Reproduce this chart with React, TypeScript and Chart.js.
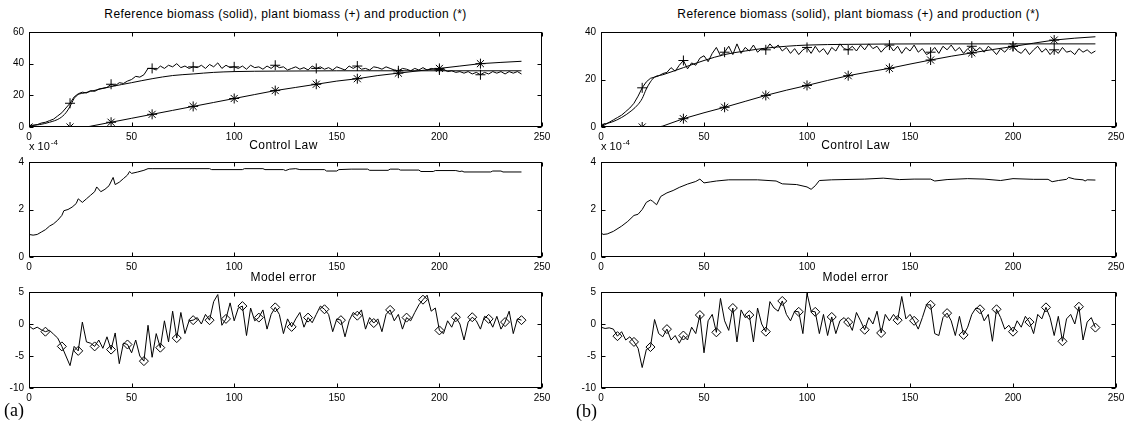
import React, { useEffect, useRef } from "react";
import { Chart, registerables } from "chart.js";

Chart.register(...registerables);

// ---------- DATA ----------
// time grid used by the noisy series (sample every 2 steps)
const T2: number[] = Array.from({ length: 121 }, (_, i) => i * 2);

const X_TICKS_MAX = 250;

// (a) Reference biomass (smooth)
const REF_A_X = [0, 5, 10, 15, 18, 20, 22, 24, 27, 30, 40, 50, 60, 70, 80, 90, 100, 120, 150, 200, 240];
const REF_A_Y = [1, 1.5, 3, 5.5, 9, 13, 18, 20.5, 21.5, 22.5, 25.5, 28, 30.5, 32.5, 33.5, 34.5, 35, 35.3, 35.5, 35.5, 35.5];

// (a) Plant biomass (+), every 2 steps
const PLANT_A = [
  0, 1, 1.5, 2.5, 3, 4, 5, 7, 9, 12,
  15, 19, 21, 22, 21.5, 23, 22.5, 24, 24.5, 25,
  27, 26, 28, 27.5, 29, 30, 32, 31.5, 33, 37,
  37, 36, 38.5, 37, 39, 38, 40, 37.5, 38.5, 37,
  38, 37.5, 39, 37, 39.5, 38, 40.5, 37, 39, 37.5,
  38, 37, 38.5, 36.5, 39, 37.5, 38, 36.5, 38.5, 37,
  39, 37.5, 38, 36, 37, 38, 36.5, 37.5, 36, 38.5,
  37, 38, 36.5, 37.5, 36, 38, 37, 36, 38.5, 37,
  38.5, 36.5, 37, 36, 38, 37.5, 36.5, 38, 37, 36,
  35.5, 37, 36.5, 35.5, 37, 36, 37.5, 36, 37, 36.5,
  36, 36.5, 35, 35.5, 34.5, 35, 34, 35, 33.5, 34.5,
  33, 34.5, 33.5, 35, 34, 35, 33.5, 35, 34, 35,
  33.5,
];

// (a) Production (*)
const PROD_A_X = [0, 10, 20, 28, 30, 40, 50, 60, 70, 80, 90, 100, 110, 120, 130, 140, 150, 160, 170, 180, 190, 200, 210, 220, 230, 240];
const PROD_A_Y = [0, 0, 0, 0, 0.5, 3, 5.5, 8, 10.5, 13, 15.5, 18, 20.5, 23, 25, 27, 29, 30.5, 32.5, 34, 35.5, 37, 38.5, 40, 40.8, 41.5];

// (a) Control law (x 1e-4)
const CTRL_A_X = [0, 2, 4, 6, 8, 10, 12, 14, 16, 17, 19, 21, 23, 24, 26, 28, 30, 32, 33, 35, 37, 39, 41, 42, 44, 46, 48, 49, 50, 53, 56, 58, 60, 88, 89, 104, 105, 114, 115, 124, 125, 127, 130, 132, 144, 145, 150, 151, 157, 165, 166, 175, 176, 180, 181, 190, 191, 197, 198, 208, 210, 211, 212, 225, 226, 230, 231, 240];
const CTRL_A_Y = [0.95, 0.92, 0.95, 1.05, 1.15, 1.3, 1.4, 1.55, 1.75, 1.95, 2.0, 2.1, 2.25, 2.45, 2.3, 2.45, 2.6, 2.75, 2.95, 2.75, 2.85, 3.0, 3.35, 3.05, 3.15, 3.3, 3.45, 3.6, 3.52, 3.58, 3.65, 3.72, 3.72, 3.72, 3.68, 3.68, 3.72, 3.72, 3.68, 3.68, 3.64, 3.7, 3.72, 3.68, 3.68, 3.62, 3.62, 3.68, 3.7, 3.7, 3.65, 3.65, 3.7, 3.7, 3.66, 3.66, 3.6, 3.6, 3.64, 3.64, 3.6, 3.62, 3.58, 3.58, 3.62, 3.62, 3.58, 3.58];

// (a) Model error, every 2 steps
const ERR_A = [
  -0.3, -0.8, -0.5, -0.9, -1.2, -1.0, -1.6, -2.2, -3.5, -5.0,
  -6.5, -3.5, -4.2, 0.3, -2.8, -3.0, -3.5, -2.5, -3.8, -2.0,
  -4.0, -1.4, -6.2, -3.0, -3.2, -4.5, -2.5, -5.0, -5.8, -0.2,
  -5.2, -1.5, -3.7, 0.5, -2.8, 2.0, -2.2, 1.8, -1.5, 0.5,
  0.6, 1.0, 0.0, 1.5, 0.6, 3.5, 4.6, -0.2, 0.8, 3.3,
  0.5, 2.5, 2.8, -1.8, 2.5, 0.5, 1.0, 2.2, -0.8, 1.5,
  2.6, 1.5, -1.5, 0.8, -0.45, 0.8, 1.8, -0.5, 1.0, 0.2,
  1.5, 2.8, 2.3, 1.5, -1.2, 0.8, 0.6, -2.0, 0.5, 1.8,
  1.3, 2.2, -0.8, 1.0, 0.15, 0.8, -1.2, 1.5, 2.2, 0.5,
  1.5, -0.8, 1.0, 0.5, 1.8, 3.0, 3.8, 4.5, 2.0, 2.5,
  -1.0, -1.5, 0.5, -0.5, 1.06, 0.0, -2.5, 0.3, 1.06, 0.5,
  -0.8, 1.2, 0.8, -0.5, 1.2, -0.8, 0.3, 2.0, -1.5, 0.8,
  0.6,
];

// (b) Reference biomass (smooth)
const REF_B_X = [0, 5, 10, 15, 18, 20, 22, 24, 26, 30, 40, 50, 60, 70, 80, 90, 100, 120, 160, 240];
const REF_B_Y = [1, 2, 4, 7, 9.5, 12, 16, 19, 21, 22, 25, 28, 30.5, 32, 33.2, 34, 34.5, 34.8, 35, 35];

// (b) Plant biomass (+), every 2 steps
const PLANT_B = [
  0, 1, 2, 3, 4, 5, 6.5, 8, 10, 13,
  16.5, 19, 20.5, 21, 21.5, 22.5, 23, 25, 23.5, 26,
  28, 24.5, 27, 26, 29, 30, 27.5, 31, 33.5, 30,
  31.5, 34, 30.5, 35, 31, 33.5, 32, 34.5, 31.5, 33,
  32.5, 35, 33, 34.5, 32, 33.5, 31, 33, 30.5, 32.5,
  33.5, 31, 34, 31.5, 33, 30.5, 33.5, 32, 35, 33,
  32.5, 34, 32, 34.5, 32.5, 35, 33, 34, 31.5, 33.5,
  34.5, 32, 34, 31, 33.5, 32, 34.5, 31.5, 33, 30.5,
  31.5, 33.5, 31, 34, 32.5, 34.5, 32, 33.5, 31, 33,
  34, 32, 33.5, 31.5, 34, 32.5, 30.5, 33, 31.5, 33.5,
  34, 32, 31, 33, 30.5, 32.5, 34, 31.5, 33, 30.5,
  32.5, 31, 33.5, 31.5, 32, 30.5, 33, 31.5, 32.5, 31,
  32,
];

// (b) Production (*)
const PROD_B_X = [0, 10, 20, 28, 30, 40, 50, 60, 70, 80, 90, 100, 110, 120, 130, 140, 150, 160, 170, 180, 190, 200, 210, 220, 230, 240];
const PROD_B_Y = [0, 0, 0, 0, 0.4, 3.5, 6, 8.3, 10.8, 13.3, 15.5, 17.5, 19.6, 21.6, 23.2, 24.7, 26.5, 28.2, 29.8, 31.2, 32.6, 33.9, 35.3, 36.6, 37.4, 38];

// (b) Control law (x 1e-4)
const CTRL_B_X = [0, 1, 3, 6, 10, 13, 16, 18, 20, 22, 24, 25, 27, 29, 32, 35, 38, 42, 46, 48, 50, 53, 56, 62, 76, 85, 88, 95, 100, 102, 104, 106, 112, 128, 137, 145, 152, 160, 162, 168, 178, 186, 194, 200, 210, 217, 219, 222, 226, 227, 230, 234, 235, 236, 240];
const CTRL_B_Y = [1.03, 0.95, 0.97, 1.08, 1.3, 1.5, 1.75, 1.8, 2.0, 2.3, 2.4, 2.35, 2.2, 2.55, 2.7, 2.8, 2.93, 3.07, 3.18, 3.28, 3.12, 3.16, 3.2, 3.25, 3.25, 3.2, 3.08, 3.05, 2.95, 2.85, 3.0, 3.22, 3.25, 3.28, 3.32, 3.26, 3.28, 3.28, 3.2, 3.26, 3.3, 3.28, 3.22, 3.3, 3.27, 3.27, 3.17, 3.22, 3.27, 3.35, 3.28, 3.25, 3.2, 3.25, 3.24];

// (b) Model error, every 2 steps
const ERR_B = [
  -0.5, -0.7, -0.6, -0.8, -1.9, -1.2, -2.5, -2.0, -2.8, -3.8,
  -6.8, -4.0, -3.6, 0.7, -1.5, -2.0, -0.8, -2.5, -1.8, -3.0,
  -1.8, -2.5, -0.5, -1.5, 1.4, -4.5, 0.5, 1.5, -1.3, 4.0,
  0.5, -1.0, 2.5, -2.8, 2.2, 1.0, 1.4, -2.8, 2.5, 0.0,
  -1.2, 3.5, 2.5, 2.0, 3.6, 1.5, 0.5, 2.0, 1.9, -1.5,
  4.8, 2.0, 1.9, -1.5, 1.5, -1.8, 1.1, -1.5, 0.5, 1.0,
  0.3, -1.0, 1.8, 0.5, -0.9, 1.0, 0.0, 2.0, -1.4, 1.5,
  0.5, 1.5, 0.6, 4.3, 0.8, 1.5, 0.5, -0.8, 1.0, 3.0,
  3.0, -1.5, -1.8, 1.0, 1.7, 0.5, -1.8, 1.2, -1.7, -0.5,
  1.5, 2.5, 2.3, 0.5, 1.5, -2.7, 2.3, 1.0, -0.8, -0.2,
  -1.2, 0.5, -0.5, 1.2, 0.3, -1.5, 1.5, 0.8, 2.6, 1.0,
  -1.8, 1.2, -2.7, 0.8, 1.5, 0.0, 2.7, -2.5, 0.3, 1.0,
  -0.56,
];

// Axis tick definitions
const Y_BIOMASS_A = { min: 0, max: 60, step: 20 };
const Y_BIOMASS_B = { min: 0, max: 40, step: 20 };
const Y_CONTROL = { min: 0, max: 4, step: 2 };
const Y_ERROR = { min: -10, max: 5, step: 5 };

const TITLE_TOP = "Reference biomass (solid), plant biomass (+) and production (*)";
const TITLE_MID = "Control Law";
const TITLE_BOT = "Model error";

// ---------- HELPERS ----------
const SANS = 'Arial, "Liberation Sans", Helvetica, sans-serif';
const Y_AXIS_W = 28;
const X_AXIS_H = 20;
const PAD_T = 8;
const PAD_R = 14;

function pts(xs: number[], ys: number[]) {
  return xs.map((x, i) => ({ x, y: ys[i] }));
}

const markerEvery = (n: number, last: number, r: number, first = 0) => (ctx: any) => {
  const x = ctx.raw ? ctx.raw.x : undefined;
  return x !== undefined && x >= first && x <= last && x % n === 0 ? r : 0;
};

const lineDs = (data: any[], extra: any = {}) => ({
  data,
  borderColor: "#000",
  borderWidth: 1,
  pointRadius: 0,
  pointBorderColor: "#000",
  pointBackgroundColor: "rgba(0,0,0,0)",
  pointBorderWidth: 1,
  tension: 0,
  fill: false,
  ...extra,
});

const boxPlugin = {
  id: "matlabBox",
  afterDatasetsDraw(chart: any) {
    const { ctx, chartArea: a, scales } = chart;
    ctx.save();
    ctx.strokeStyle = "#000";
    ctx.lineWidth = 1;
    const L = Math.round(a.left) + 0.5;
    const R = Math.round(a.right) - 0.5;
    const T = Math.round(a.top) + 0.5;
    const B = Math.round(a.bottom) - 0.5;
    ctx.strokeRect(L, T, R - L, B - T);
    const len = 4;
    ctx.beginPath();
    scales.x.ticks.forEach((t: any) => {
      const px = Math.round(scales.x.getPixelForValue(t.value)) + 0.5;
      ctx.moveTo(px, B);
      ctx.lineTo(px, B - len);
      ctx.moveTo(px, T);
      ctx.lineTo(px, T + len);
    });
    scales.y.ticks.forEach((t: any) => {
      const py = Math.round(scales.y.getPixelForValue(t.value)) + 0.5;
      ctx.moveTo(L, py);
      ctx.lineTo(L + len, py);
      ctx.moveTo(R, py);
      ctx.lineTo(R - len, py);
    });
    ctx.stroke();
    ctx.restore();
  },
};

type SubplotProps = {
  left: number;
  top: number;
  w: number;
  h: number;
  y: { min: number; max: number; step: number };
  datasets: any[];
};

function Subplot({ left, top, w, h, y, datasets }: SubplotProps) {
  const ref = useRef<HTMLCanvasElement>(null);
  const cw = Y_AXIS_W + w + PAD_R;
  const ch = PAD_T + h + X_AXIS_H;
  useEffect(() => {
    const tickFont = { family: SANS, size: 10 };
    const chart = new Chart(ref.current as HTMLCanvasElement, {
      type: "line",
      data: { datasets },
      options: {
        animation: false,
        responsive: false,
        maintainAspectRatio: false,
        devicePixelRatio: 1,
        events: [],
        layout: { padding: { top: PAD_T, right: PAD_R, left: 0, bottom: 0 } },
        plugins: {
          legend: { display: false },
          tooltip: { enabled: false },
          title: { display: false },
        },
        scales: {
          x: {
            type: "linear",
            min: 0,
            max: X_TICKS_MAX,
            ticks: { stepSize: 50, color: "#000", font: tickFont, padding: 4, maxRotation: 0, autoSkip: false },
            grid: { display: false, drawTicks: false },
            border: { display: false },
            afterFit: (s: any) => {
              s.height = X_AXIS_H;
            },
          },
          y: {
            type: "linear",
            min: y.min,
            max: y.max,
            ticks: { stepSize: y.step, color: "#000", font: tickFont, padding: 5, autoSkip: false },
            grid: { display: false, drawTicks: false },
            border: { display: false },
            afterFit: (s: any) => {
              s.width = Y_AXIS_W;
            },
          },
        },
      } as any,
      plugins: [boxPlugin],
    });
    return () => chart.destroy();
  }, []);
  return (
    <canvas
      ref={ref}
      width={cw}
      height={ch}
      style={{ position: "absolute", left: left - Y_AXIS_W, top: top - PAD_T, width: cw, height: ch }}
    />
  );
}

function Label({ cx, left, top, size = 12, text, family = SANS, spacing = 0.4 }: any) {
  const style: any = {
    position: "absolute",
    top,
    fontFamily: family,
    fontSize: size,
    lineHeight: `${size + 2}px`,
    whiteSpace: "nowrap",
    letterSpacing: spacing,
    color: "#000",
  };
  if (cx !== undefined) {
    style.left = cx;
    style.transform = "translateX(-50%)";
  } else {
    style.left = left;
  }
  return <div style={style}>{text}</div>;
}

function Exponent({ left, top }: { left: number; top: number }) {
  return (
    <div style={{ position: "absolute", left, top, fontFamily: SANS, fontSize: 11, lineHeight: "13px", whiteSpace: "nowrap", color: "#000" }}>
      x 10<span style={{ fontSize: 8, position: "relative", top: -5, marginLeft: 1 }}>-4</span>
    </div>
  );
}

const COLS = [
  { left: 29, w: 513 },
  { left: 601, w: 515 },
];
const ROWS = [
  { top: 29, h: 98 },
  { top: 159, h: 98 },
  { top: 289, h: 99 },
];

export default function App() {
  const plusR = markerEvery(20, 220, 5);
  const starR = markerEvery(20, 220, 5);
  const diaR = markerEvery(8, 240, 4.5, 8);

  const topA = [
    lineDs(pts(REF_A_X, REF_A_Y), { cubicInterpolationMode: "monotone" }),
    lineDs(pts(T2, PLANT_A), { pointStyle: "cross", pointRadius: plusR }),
    lineDs(pts(PROD_A_X, PROD_A_Y), { pointStyle: "star", pointRadius: starR }),
  ];
  const topB = [
    lineDs(pts(REF_B_X, REF_B_Y), { cubicInterpolationMode: "monotone" }),
    lineDs(pts(T2, PLANT_B), { pointStyle: "cross", pointRadius: plusR }),
    lineDs(pts(PROD_B_X, PROD_B_Y), { pointStyle: "star", pointRadius: starR }),
  ];
  const midA = [lineDs(pts(CTRL_A_X, CTRL_A_Y))];
  const midB = [lineDs(pts(CTRL_B_X, CTRL_B_Y))];
  const botA = [lineDs(pts(T2, ERR_A), { pointStyle: "rectRot", pointRadius: diaR })];
  const botB = [lineDs(pts(T2, ERR_B), { pointStyle: "rectRot", pointRadius: diaR })];

  const centers = COLS.map((c) => c.left + c.w / 2);

  return (
    <div style={{ position: "absolute", left: 0, top: 0, width: 1126, height: 431, background: "#fff", overflow: "hidden" }}>
      <Subplot left={COLS[0].left} top={ROWS[0].top} w={COLS[0].w} h={ROWS[0].h} y={Y_BIOMASS_A} datasets={topA} />
      <Subplot left={COLS[0].left} top={ROWS[1].top} w={COLS[0].w} h={ROWS[1].h} y={Y_CONTROL} datasets={midA} />
      <Subplot left={COLS[0].left} top={ROWS[2].top} w={COLS[0].w} h={ROWS[2].h} y={Y_ERROR} datasets={botA} />
      <Subplot left={COLS[1].left} top={ROWS[0].top} w={COLS[1].w} h={ROWS[0].h} y={Y_BIOMASS_B} datasets={topB} />
      <Subplot left={COLS[1].left} top={ROWS[1].top} w={COLS[1].w} h={ROWS[1].h} y={Y_CONTROL} datasets={midB} />
      <Subplot left={COLS[1].left} top={ROWS[2].top} w={COLS[1].w} h={ROWS[2].h} y={Y_ERROR} datasets={botB} />

      <Label cx={centers[0]} top={7} text={TITLE_TOP} />
      <Label cx={centers[1]} top={7} text={TITLE_TOP} />
      <Label cx={centers[0] - 2} top={138} text={TITLE_MID} />
      <Label cx={centers[1] - 3} top={138} text={TITLE_MID} />
      <Label cx={centers[0] - 2} top={270} text={TITLE_BOT} />
      <Label cx={centers[1] - 3} top={270} text={TITLE_BOT} />
      <Exponent left={COLS[0].left} top={140} />
      <Exponent left={COLS[1].left} top={140} />
      <Label left={4} top={400} size={18} spacing={0} family={'"Liberation Serif", "Times New Roman", serif'} text="(a)" />
      <Label left={576} top={401} size={18} spacing={0} family={'"Liberation Serif", "Times New Roman", serif'} text="(b)" />
    </div>
  );
}
